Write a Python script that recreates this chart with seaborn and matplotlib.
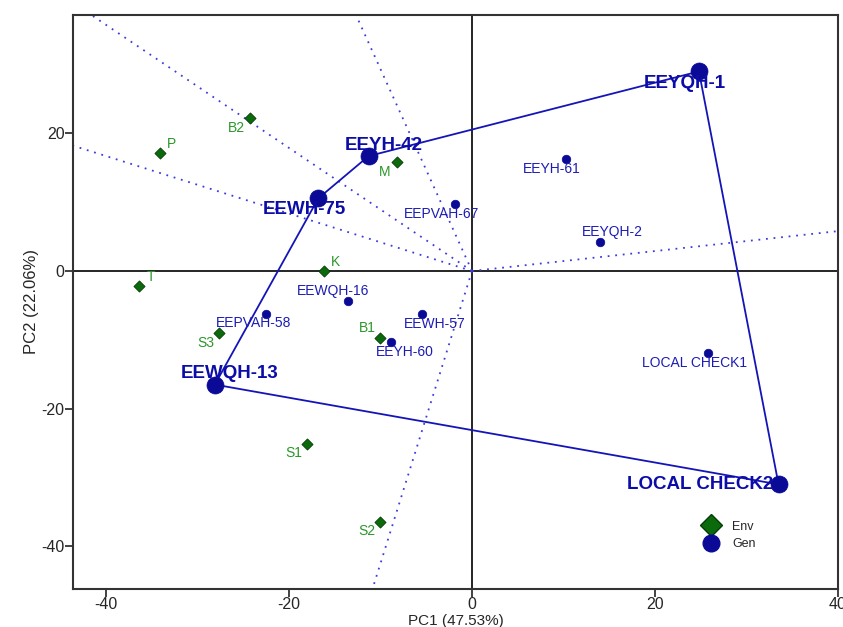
import numpy as np
import pandas as pd
import matplotlib
matplotlib.use("Agg")
import matplotlib.pyplot as plt
import seaborn as sns
from matplotlib.lines import Line2D

# Genotype scores on the first two principal components
gen_names = ["EEYQH-1", "EEYH-42", "EEWH-75", "EEWQH-13", "LOCAL CHECK2",
             "EEYH-61", "EEPVAH-67", "EEYQH-2", "EEWQH-16", "EEPVAH-58",
             "EEWH-57", "EEYH-60", "LOCAL CHECK1"]
gen_pc1 = [24.8, -11.3, -16.8, -28.1, 33.5, 10.3, -1.9, 14.0, -13.6, -22.5,
           -5.5, -8.8, 25.8]
gen_pc2 = [29.0, 16.7, 10.55, -16.5, -31.0, 16.3, 9.7, 4.2, -4.35, -6.2,
           -6.3, -10.3, -11.95]

# Environment scores
env_names = ["B2", "P", "M", "K", "T", "S3", "B1", "S1", "S2"]
env_pc1 = [-24.3, -34.1, -8.15, -16.2, -36.4, -27.7, -10.0, -18.0, -10.1]
env_pc2 = [22.2, 17.1, 15.9, 0.0, -2.2, -9.05, -9.8, -25.2, -36.4]

x_ticks = [-40, -20, 0, 20, 40]
y_ticks = [-40, -20, 0, 20]
x_label = "PC1 (47.53%)"
y_label = "PC2 (22.06%)"

gen = pd.DataFrame({"name": gen_names, "PC1": gen_pc1, "PC2": gen_pc2})
env = pd.DataFrame({"name": env_names, "PC1": env_pc1, "PC2": env_pc2})


def convex_hull(pts):
    pts = sorted(set(pts))

    def cross(o, a, b):
        return (a[0] - o[0]) * (b[1] - o[1]) - (a[1] - o[1]) * (b[0] - o[0])

    lower, upper = [], []
    for p in pts:
        while len(lower) >= 2 and cross(lower[-2], lower[-1], p) <= 0:
            lower.pop()
        lower.append(p)
    for p in reversed(pts):
        while len(upper) >= 2 and cross(upper[-2], upper[-1], p) <= 0:
            upper.pop()
        upper.append(p)
    return lower[:-1] + upper[:-1]


hull = convex_hull(list(zip(gen.PC1, gen.PC2)))
hull_set = set(hull)
gen["vertex"] = [(x, y) in hull_set for x, y in zip(gen.PC1, gen.PC2)]

GEN_COL = "#0a0a96"
GEN_TXT = "#1c1cb4"
HULL_COL = "#1414b8"
RAY_COL = "#3c3cdc"
ENV_COL = "#0b6a0b"
ENV_TXT = "#2a962a"

sns.set_theme(style="ticks")
plt.rcParams["font.family"] = ["Liberation Sans", "DejaVu Sans"]
plt.rcParams["axes.unicode_minus"] = False

fig = plt.figure(figsize=(8.43, 6.27), dpi=100)
ax = fig.add_axes([0.0866, 0.0606, 0.9075, 0.9155])
ax.set_xlim(-43.6, 40.0)
ax.set_ylim(-46.2, 37.2)

# reference axes through the origin
ax.axhline(0, color="black", lw=1.2, zorder=1)
ax.axvline(0, color="black", lw=1.2, zorder=1)

# polygon joining the vertex genotypes
hull_df = pd.DataFrame(hull + [hull[0]], columns=["PC1", "PC2"])
sns.lineplot(data=hull_df, x="PC1", y="PC2", sort=False, estimator=None,
             color=HULL_COL, lw=1.3, ax=ax, zorder=2)

# rays from the origin perpendicular to each polygon side
for i in range(len(hull)):
    a = np.array(hull[i])
    b = np.array(hull[(i + 1) % len(hull)])
    d = b - a
    n = np.array([d[1], -d[0]])
    if n @ a < 0:
        n = -n
    n = n / np.linalg.norm(n) * 200
    ax.plot([0, n[0]], [0, n[1]], linestyle=(0, (1, 3.2)), color=RAY_COL,
            lw=1.3, zorder=1.5)

# points
sns.scatterplot(data=env, x="PC1", y="PC2", marker="D", s=32, color=ENV_COL,
                edgecolor="#053d05", linewidth=0.6, ax=ax, zorder=4,
                legend=False)
sns.scatterplot(data=gen[~gen.vertex], x="PC1", y="PC2", marker="o", s=38,
                color=GEN_COL, edgecolor=GEN_COL, linewidth=0.5, ax=ax,
                zorder=4, legend=False)
sns.scatterplot(data=gen[gen.vertex], x="PC1", y="PC2", marker="o", s=150,
                color=GEN_COL, edgecolor=GEN_COL, linewidth=0.5, ax=ax,
                zorder=4, legend=False)

# label placement (pixel offsets from each point)
gen_offsets = {
    "EEYQH-1": (-14, -12, "center"), "EEYH-42": (15, 11, "center"),
    "EEWH-75": (-14, -11, "center"), "EEWQH-13": (15, 11, "center"),
    "LOCAL CHECK2": (-5, 0, "right"), "EEYH-61": (-14, -10, "center"),
    "EEPVAH-67": (-13, -10, "center"), "EEYQH-2": (12, 10, "center"),
    "EEWQH-16": (-14, 10, "center"), "EEPVAH-58": (-13, -9, "center"),
    "EEWH-57": (13, -10, "center"), "EEYH-60": (13, -10, "center"),
    "LOCAL CHECK1": (-14, -10, "center"),
}
env_offsets = {
    "B2": (-13, -10), "P": (12, 9), "M": (-13, -10), "K": (12, 9),
    "T": (12, 9), "S3": (-13, -10), "B1": (-13, 10), "S1": (-14, -9),
    "S2": (-13, -9),
}

for _, r in gen.iterrows():
    dx, dy, ha = gen_offsets[r["name"]]
    if r["vertex"]:
        kw = dict(fontsize=13.5, fontweight="bold", color="#0c0ca8")
    else:
        kw = dict(fontsize=10, color=GEN_TXT)
    ax.annotate(r["name"], (r.PC1, r.PC2), xytext=(dx, dy),
                textcoords="offset pixels", ha=ha, va="center", zorder=5,
                **kw)

for _, r in env.iterrows():
    dx, dy = env_offsets[r["name"]]
    ax.annotate(r["name"], (r.PC1, r.PC2), xytext=(dx, dy),
                textcoords="offset pixels", ha="center", va="center",
                fontsize=10, color=ENV_TXT, zorder=5)

# legend
handles = [
    Line2D([], [], marker="D", ls="none", markersize=11, color=ENV_COL,
           markeredgecolor="#053d05", label="Env"),
    Line2D([], [], marker="o", ls="none", markersize=12, color=GEN_COL,
           label="Gen"),
]
ax.legend(handles=handles, loc="center", bbox_to_anchor=(0.855, 0.093),
          frameon=False, fontsize=9, handletextpad=0.7, labelspacing=0.45)

ax.set_xticks(x_ticks)
ax.set_yticks(y_ticks)
ax.set_xlabel(x_label, fontsize=11, labelpad=1)
ax.set_ylabel(y_label, fontsize=12, labelpad=2)
ax.tick_params(axis="both", labelsize=11.5, length=5.5, width=1.2,
               color="#222222", direction="out", pad=0.5)
for s in ax.spines.values():
    s.set_linewidth(1.5)
    s.set_color("#333333")

fig.savefig("out.png", dpi=100)
